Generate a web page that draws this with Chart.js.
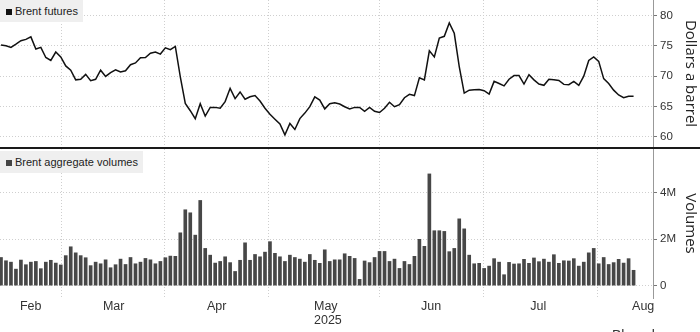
<!DOCTYPE html>
<html>
<head>
<meta charset="utf-8">
<script src="https://cdn.jsdelivr.net/npm/chart.js@4.4.1/dist/chart.umd.min.js"></script>
<style>
	html, body { margin: 0; padding: 0; background: #fff; overflow: hidden; }
	#page { position: relative; width: 700px; height: 332px; overflow: hidden; font-family: "Liberation Sans", Arial, sans-serif; }
	#price-box { position: absolute; left: 0; top: 0; width: 700px; height: 147px; }
	#rule { position: absolute; left: 0; top: 147px; width: 700px; height: 2px; background: #1a1a1a; }
	#volume-box { position: absolute; left: 0; top: 149px; width: 700px; height: 183px; }
	.legend { position: absolute; left: 0; height: 22px; line-height: 22px; padding: 0 5px 0 6px; background: #efefef; color: #222; font-size: 11px; white-space: nowrap; }
	.legend i { display: inline-block; width: 6px; height: 6px; margin-right: 3px; }
	#credit { position: absolute; left: 612px; top: 328px; font-size: 14px; line-height: 14px; color: #333; }
</style>
</head>
<body>
<div id="page">
	<div id="price-box"><canvas id="price-chart"></canvas></div>
	<div id="rule"></div>
	<div id="volume-box"><canvas id="volume-chart"></canvas></div>
	<div class="legend" style="top: 0;"><i style="background: #111;"></i>Brent futures</div>
	<div class="legend" style="top: 151px;"><i style="background: #444;"></i>Brent aggregate volumes</div>
	<div id="credit">Bloomberg</div>
</div>
<script>
// ============= Data =============

// one value per trading day, mid Feb -> mid Aug 2025
const brentPrice = [
	75.15, 75.04, 74.77, 75.3, 75.87, 76.09, 76.5, 74.5, 74.77, 73.1,
	72.6, 74.0, 73.2, 71.7, 71.0, 69.4, 69.5, 70.3, 69.26, 69.5,
	71.0, 69.97, 70.6, 71.07, 70.7, 70.9, 71.9, 72.2, 73.06, 73.1,
	73.8, 74.0, 73.66, 74.7, 74.4, 74.93, 69.9, 65.5, 64.3, 62.97,
	65.45, 63.4, 64.85, 64.85, 64.7, 65.8, 68.0, 66.3, 67.4, 66.2,
	66.6, 66.8, 65.9, 64.7, 63.7, 62.9, 62.1, 60.3, 62.2, 61.2,
	63.0, 63.9, 64.96, 66.6, 66.06, 64.6, 65.45, 65.6, 65.4, 64.96,
	64.6, 64.85, 64.85, 64.2, 64.85, 64.2, 64.0, 64.7, 65.7, 64.96,
	65.3, 66.45, 67.0, 66.8, 69.75, 69.4, 74.2, 73.2, 76.3, 76.6,
	78.8, 77.1, 71.6, 67.2, 67.7, 67.77, 67.8, 67.6, 67.05, 69.15,
	68.8, 68.4, 69.5, 70.1, 70.1, 68.7, 70.25, 69.4, 68.7, 68.5,
	69.5, 69.4, 69.3, 68.65, 68.6, 69.15, 68.5, 70.0, 72.6, 73.2,
	72.45, 69.6, 68.8, 67.7, 66.9, 66.45, 66.7, 66.7
];

// aggregate volumes, millions of contracts
const brentVolume = [
	1.21, 1.07, 1.01, 0.71, 1.10, 0.90, 1.01, 1.04, 0.73, 1.01,
	1.09, 0.97, 0.89, 1.29, 1.67, 1.41, 1.29, 1.20, 0.86, 1.01,
	0.94, 1.11, 0.77, 0.90, 1.14, 0.91, 1.21, 0.94, 1.01, 1.17,
	1.11, 0.94, 1.04, 1.20, 1.27, 1.26, 2.27, 3.26, 3.13, 2.17,
	3.66, 1.60, 1.31, 0.97, 1.04, 1.24, 0.99, 0.61, 1.09, 1.84,
	1.09, 1.34, 1.24, 1.44, 1.89, 1.39, 1.24, 1.04, 1.31, 1.21,
	1.14, 1.01, 1.34, 1.09, 0.96, 1.54, 1.04, 1.11, 1.11, 1.37,
	1.26, 1.17, 0.27, 1.06, 0.99, 1.21, 1.47, 1.47, 1.04, 1.14,
	0.74, 1.04, 0.91, 1.26, 1.99, 1.69, 4.80, 2.36, 2.36, 2.33,
	1.46, 1.60, 2.87, 2.44, 1.31, 0.94, 0.96, 0.74, 0.84, 1.16,
	1.01, 0.47, 1.00, 0.93, 0.94, 1.13, 0.96, 1.19, 1.03, 1.14,
	1.01, 1.33, 0.96, 1.07, 1.06, 1.16, 0.84, 1.01, 1.41, 1.60,
	0.94, 1.21, 0.91, 0.99, 1.13, 0.97, 1.16, 0.66
];

const monthNames = [ "Feb", "Mar", "Apr", "May", "Jun", "Jul", "Aug" ];
const yearLabel = "2025";
// month boundaries in trading-day units (visible Feb start, Mar..Aug starts, end of Aug)
const monthEdges = [ -0.45, 12.05, 32.9, 53.8, 75.9, 96.8, 119.7, 137.7 ];

const priceTicks = [ 60, 65, 70, 75, 80 ];
const volumeTicks = [ 0, 2, 4 ];


// ============= Utility =============

const X_MIN = -0.2;
const X_MAX = 130.9;
const TICK_FONT = "'Liberation Sans', Arial, sans-serif";
const TITLE_FONT = "'Open Sans', 'Noto Sans', sans-serif";

function fixedTicks(values)
{
	return scale =>
	{
		scale.ticks = values.map(value => ({ value }));
	};
}

function toPoints(values)
{
	return values.map((y, x) => ({ x, y }));
}

function gridAxis()
{
	return {
		type: "linear", min: X_MIN, max: X_MAX, offset: false,
		afterBuildTicks: fixedTicks(monthEdges.slice(1, -1)),
		afterFit: scale => { scale.height = 0; scale.paddingLeft = 0; scale.paddingRight = 0; },
		ticks: { display: false },
		grid: { color: "#cfcfcf", lineWidth: 1, drawTicks: false, offset: false },
		border: { display: false, dash: [ 1, 2 ] }
	};
}

function monthAxis()
{
	const centres = monthNames.map((_, i) => (monthEdges[i] + monthEdges[i + 1]) / 2);

	return {
		type: "linear", min: X_MIN, max: X_MAX, offset: false,
		afterBuildTicks: fixedTicks(centres),
		afterFit: scale => { scale.height = 34; scale.paddingLeft = 0; scale.paddingRight = 0; },
		ticks: {
			autoSkip: false, maxRotation: 0, align: "start", labelOffset: -10, padding: 2,
			color: "#333", font: { family: TICK_FONT, size: 12.5, lineHeight: 1.12 },
			callback: (value, index) => monthNames[index] === "May" ? [ monthNames[index], yearLabel ] : monthNames[index]
		},
		grid: { display: false, drawTicks: false },
		border: { display: false }
	};
}

function valueAxis(min, max, ticks, title, format)
{
	return {
		type: "linear", position: "right", min, max,
		afterBuildTicks: fixedTicks(ticks),
		afterFit: scale => { scale.width = 47; scale.paddingTop = 0; scale.paddingBottom = 0; },
		ticks: { padding: 3, color: "#333", font: { family: TICK_FONT, size: 11.5 }, callback: format },
		grid: { color: "#cfcfcf", tickLength: 4, tickColor: "#777", tickBorderDash: [] },
		border: { color: "#999", width: 1, dash: [ 1, 2 ] },
		title: { display: true, text: title, color: "#222", font: { family: TITLE_FONT, size: 15 }, padding: { top: 1, bottom: 0 } }
	};
}

function createPanel(element, type, datasets, scales)
{
	return new Chart(element, {
		type: type,
		data: { datasets },
		options: {
			responsive: true,
			maintainAspectRatio: false,
			animation: false,
			devicePixelRatio: 1,
			events: [],
			layout: { padding: 0 },
			plugins: { legend: { display: false }, tooltip: { enabled: false } },
			scales
		}
	});
}


// ============= Charts =============

createPanel(document.getElementById("price-chart"), "line",
	[ {
		data: toPoints(brentPrice),
		borderColor: "#111",
		borderWidth: 1.5,
		pointRadius: 0,
		tension: 0
	} ],
	{
		x: gridAxis(),
		y: valueAxis(58.3, 82.6, priceTicks, "Dollars a barrel", v => String(v))
	});

createPanel(document.getElementById("volume-chart"), "bar",
	[ {
		data: toPoints(brentVolume),
		backgroundColor: "#474747",
		barThickness: 3,
		xAxisID: "x",
		yAxisID: "y"
	} ],
	{
		x: gridAxis(),
		x2: monthAxis(),
		y: valueAxis(-0.53, 5.87, volumeTicks, "Volumes", v => v === 0 ? "0" : v + "M")
	});
</script>
</body>
</html>
